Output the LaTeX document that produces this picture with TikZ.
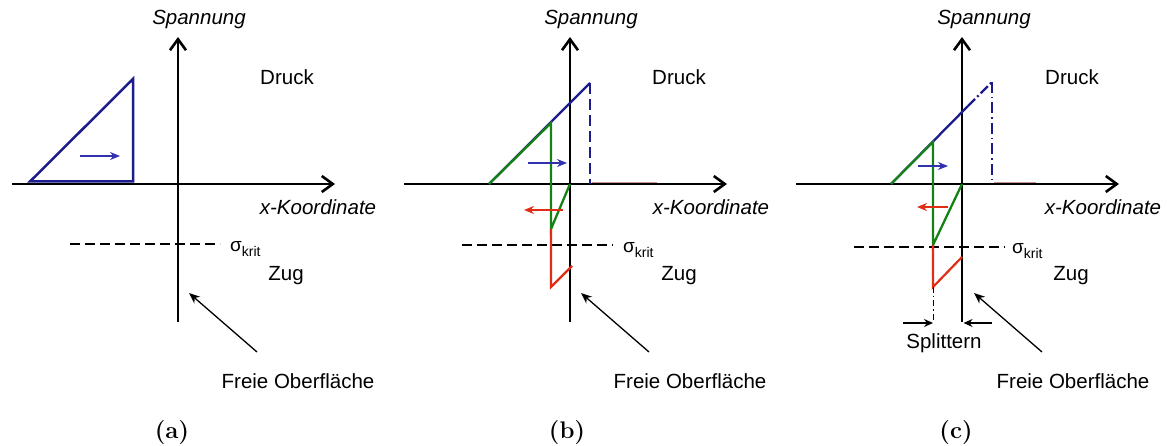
\documentclass[tikz,border=0pt]{standalone}
\usepackage{fontspec}
\newfontfamily\arial{Liberation Sans}
\usetikzlibrary{arrows.meta}
\definecolor{triblue}{RGB}{28,28,140}
\definecolor{arrblue}{RGB}{50,50,175}
\definecolor{grn}{RGB}{20,130,20}
\definecolor{rd}{RGB}{225,45,20}
\definecolor{faintrd}{RGB}{200,150,140}
\tikzset{
  axis/.style={line width=2.6pt, -{Straight Barb[length=11pt,width=16pt]}},
  lbl/.style={font=\arial\fontsize{20.5}{24}\selectfont, inner sep=0pt},
  ilbl/.style={font=\arial\itshape\fontsize{20.5}{24}\selectfont, inner sep=0pt},
  panelcap/.style={font=\bfseries\fontsize{24}{28}\selectfont, inner sep=0pt},
  sig/.style={font=\arial, inner sep=0pt, anchor=base west},
  critline/.style={line width=1.3pt, dash pattern=on 10pt off 5pt},
  pointer/.style={line width=1.3pt, -{Stealth[length=11pt,width=9pt]}},
  split/.style={line width=1.3pt, -{Stealth[length=9pt,width=8pt]}},
  tri/.style={line width=2.5pt, triblue, line join=miter},
  blu/.style={line width=2.3pt, triblue},
  grnl/.style={line width=2.3pt, grn, line join=miter},
  rdl/.style={line width=2.2pt, rd, line join=miter},
  bluarrow/.style={line width=1.4pt, arrblue, -{Stealth[length=10pt,width=8pt]}},
  rdarrow/.style={line width=1.4pt, rd, -{Stealth[length=10pt,width=8pt]}},
  faint/.style={line width=0.7pt, faintrd},
}
\newcommand{\sigkrit}{{\fontsize{19}{20}\selectfont σ}\raisebox{-5pt}{\fontsize{14}{16}\selectfont krit}}
\begin{document}
\begin{tikzpicture}[x=1pt,y=-1pt]
\useasboundingbox (0,0) rectangle (1170,446);

% ================= Panel (a) =================
\coordinate (aXs) at (12,184);
\coordinate (aXe) at (335,184);
\coordinate (aYs) at (178,322);
\coordinate (aYe) at (178,37);
\draw[axis] (aXs) -- (aXe);
\draw[axis] (aYs) -- (aYe);
\node[ilbl] (aSp) at (199,19) {Spannung};
\node[lbl] (aDr) at (287,77) {Druck};
\node[ilbl] (aXk) at (318,207) {x-Koordinate};
\node[lbl] (aZu) at (286,276) {Zug};
\node[lbl] (aFr) at (298,381) {Freie Oberfläche};
\node[panelcap] (aCap) at (172,433) {(a)};
\coordinate (aC1) at (70,244);
\coordinate (aC2) at (220,244);
\draw[critline] (aC1) -- (aC2);
\node[sig] (aSig) at (230,252) {\sigkrit};
\coordinate (aF1) at (257,352);
\coordinate (aF2) at (189,293);
\draw[pointer] (aF1) -- (aF2);
\coordinate (aT1) at (30,181.5);
\coordinate (aT2) at (133,79);
\coordinate (aT3) at (133,181.5);
\draw[tri] (aT1) -- (aT2) -- (aT3) -- cycle;
\coordinate (aB1) at (80,156);
\coordinate (aB2) at (120,156);
\draw[bluarrow] (aB1) -- (aB2);

% ================= Panel (b) =================
\coordinate (bXs) at (404,184);
\coordinate (bXe) at (727,184);
\coordinate (bYs) at (570,322);
\coordinate (bYe) at (570,37);
\draw[faint] (592,182.3) -- (657,182.3);
\draw[axis] (bXs) -- (bXe);
\draw[axis] (bYs) -- (bYe);
\node[ilbl] (bSp) at (591,19) {Spannung};
\node[lbl] (bDr) at (679,77) {Druck};
\node[ilbl] (bXk) at (711,207) {x-Koordinate};
\node[lbl] (bZu) at (679,276) {Zug};
\node[lbl] (bFr) at (690,381) {Freie Oberfläche};
\node[panelcap] (bCap) at (567,433) {(b)};
\coordinate (bC1) at (462,245);
\coordinate (bC2) at (613,245);
\draw[critline] (bC1) -- (bC2);
\node[sig] (bSig) at (623,253) {\sigkrit};
\coordinate (bF1) at (649,352);
\coordinate (bF2) at (581,293);
\draw[pointer] (bF1) -- (bF2);
\coordinate (bL0) at (489,184);
\coordinate (bL1) at (590,83);
\coordinate (bL2) at (590,184);
\draw[blu] (bL0) -- (bL1);
\draw[blu, dash pattern=on 11pt off 5pt] (bL1) -- (bL2);
\coordinate (bG1) at (551,123);
\coordinate (bG2) at (551,229);
\coordinate (bG3) at (570,184);
\draw[grnl] (bL0) -- (bG1) -- (bG2) -- (bG3);
\coordinate (bR1) at (551,287);
\coordinate (bR2) at (572,266);
\draw[rdl] (bG2) -- (bR1) -- (bR2);
\coordinate (bB1) at (528,163);
\coordinate (bB2) at (567,163);
\draw[bluarrow] (bB1) -- (bB2);
\coordinate (bA1) at (563,210);
\coordinate (bA2) at (524,210);
\draw[rdarrow] (bA1) -- (bA2);

% ================= Panel (c) =================
\coordinate (cXs) at (796,184);
\coordinate (cXe) at (1119,184);
\coordinate (cYs) at (962,322);
\coordinate (cYe) at (962,37);
\draw[faint] (994,182.3) -- (1036,182.3);
\draw[axis] (cXs) -- (cXe);
\draw[axis] (cYs) -- (cYe);
\node[ilbl] (cSp) at (984,19) {Spannung};
\node[lbl] (cDr) at (1072,77) {Druck};
\node[ilbl] (cXk) at (1103,207) {x-Koordinate};
\node[lbl] (cZu) at (1071,276) {Zug};
\node[lbl] (cFr) at (1073,381) {Freie Oberfläche};
\node[lbl] (cSpl) at (944,343) {Splittern};
\node[panelcap] (cCap) at (956,433) {(c)};
\coordinate (cC1) at (854,247);
\coordinate (cC2) at (1005,247);
\draw[critline] (cC1) -- (cC2);
\node[sig] (cSig) at (1012,254) {\sigkrit};
\coordinate (cF1) at (1042,352);
\coordinate (cF2) at (974,293);
\draw[pointer] (cF1) -- (cF2);
\coordinate (cL0) at (891,184);
\coordinate (cLm) at (968,106);
\coordinate (cL1) at (992,82);
\coordinate (cL2) at (992,184);
\draw[blu] (cL0) -- (cLm);
\draw[blu, dash pattern=on 10pt off 3pt on 2pt off 3pt] (cLm) -- (cL1);
\draw[blu, dash pattern=on 11pt off 4pt on 1.5pt off 4pt] (cL1) -- (cL2);
\coordinate (cG1) at (933,142);
\coordinate (cG2) at (933,245);
\coordinate (cG3) at (962,184);
\draw[grnl] (cL0) -- (cG1) -- (cG2) -- (cG3);
\coordinate (cR1) at (933,287);
\coordinate (cR2) at (962,257);
\draw[rdl] (cG2) -- (cR1) -- (cR2);
\coordinate (cD1) at (933,323);
\draw[line width=1pt, dash pattern=on 6pt off 3pt on 1.5pt off 3pt] (cR1) -- (cD1);
\coordinate (cS1) at (903,323);
\draw[split] (cS1) -- (cD1);
\coordinate (cS2) at (992,323);
\coordinate (cS3) at (963.5,323);
\draw[split] (cS2) -- (cS3);
\coordinate (cB1) at (918,166);
\coordinate (cB2) at (948,166);
\draw[bluarrow] (cB1) -- (cB2);
\coordinate (cA1) at (948,207);
\coordinate (cA2) at (917,207);
\draw[rdarrow] (cA1) -- (cA2);
\end{tikzpicture}
\end{document}
